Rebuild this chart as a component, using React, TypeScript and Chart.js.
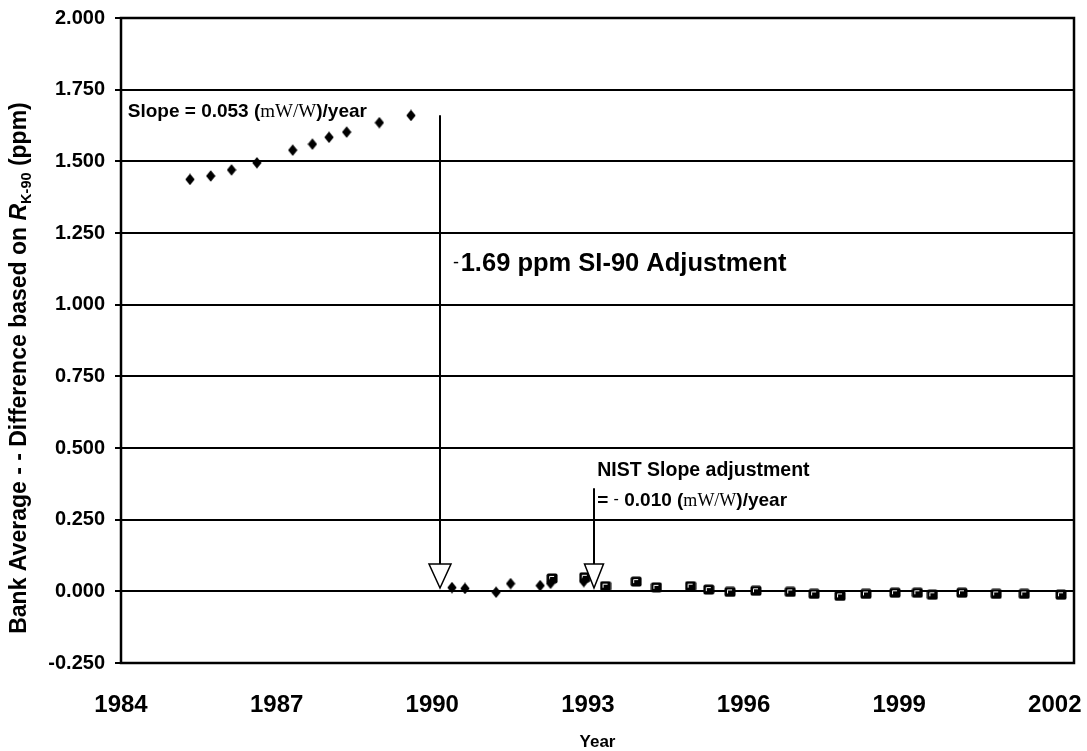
import { useEffect, useRef } from "react";
import { Chart, registerables } from "chart.js";

Chart.register(...registerables);

// ---- data ----
const DIAMOND_YEARS = [
  1985.33, 1985.73, 1986.13, 1986.62, 1987.31, 1987.69, 1988.01, 1988.35, 1988.98, 1989.59,
  1990.38, 1990.63, 1991.23, 1991.51, 1992.08, 1992.28, 1992.92,
];
const DIAMOND_VALUES = [
  1.437, 1.449, 1.47, 1.495, 1.539, 1.56, 1.584, 1.602, 1.635, 1.66,
  0.013, 0.01, -0.003, 0.027, 0.02, 0.028, 0.034,
];
const SQUARE_YEARS = [
  1992.31, 1992.94, 1993.34, 1993.93, 1994.32, 1994.98, 1995.33, 1995.74, 1996.24, 1996.9,
  1997.36, 1997.86, 1998.36, 1998.92, 1999.35, 1999.64, 2000.21, 2000.87, 2001.41, 2002.12,
];
const SQUARE_VALUES = [
  0.045, 0.049, 0.018, 0.034, 0.014, 0.018, 0.006, -0.002, 0.002, -0.002,
  -0.009, -0.016, -0.009, -0.005, -0.005, -0.012, -0.005, -0.009, -0.009, -0.012,
];
const X_TICKS = [1984, 1987, 1990, 1993, 1996, 1999, 2002];
const Y_TICKS = [-0.25, 0, 0.25, 0.5, 0.75, 1.0, 1.25, 1.5, 1.75, 2.0];
const X_MIN = 1984;
const X_MAX = 2002.37;
const Y_MIN = -0.25;
const Y_MAX = 2.0;

// annotation arrows (data coords)
const ARROW_X = [1990.14, 1993.12];
const ARROW_TOP = [1.661, 0.36];
const ARROW_TIP = [0.0115, 0.0115];

// annotation texts
const Y_TITLE_MAIN = "Bank Average - - Difference based on ";
const Y_TITLE_R = "R";
const Y_TITLE_SUB = "K-90";
const Y_TITLE_END = " (ppm)";
const X_TITLE = "Year";
const SLOPE_A = "Slope = 0.053 (";
const UNIT = "mW/W";
const SLOPE_B = ")/year";
const ADJ_MINUS = "-";
const ADJ_TEXT = "1.69 ppm SI-90 Adjustment";
const NIST_LINE1 = "NIST Slope adjustment";
const NIST_EQ = "= ";
const NIST_MINUS = "-";
const NIST_VAL = " 0.010 (";
const NIST_END = ")/year";

// text anchors (data coords: left x, baseline y)
const SLOPE_POS = [1984.13, 1.655];
const ADJ_POS = [1990.4, 1.117];
const NIST_POS1 = [1993.18, 0.404];
const NIST_POS2 = [1993.18, 0.298];

const SANS = "'Liberation Sans', Arial, sans-serif";
const SERIF = "'Liberation Serif', 'Times New Roman', serif";

function makeDiamond(): HTMLCanvasElement {
  const c = document.createElement("canvas");
  c.width = 10;
  c.height = 12;
  const g = c.getContext("2d")!;
  g.fillStyle = "#000";
  g.beginPath();
  g.moveTo(5, 0.3);
  g.lineTo(9.7, 6);
  g.lineTo(5, 11.7);
  g.lineTo(0.3, 6);
  g.closePath();
  g.fill();
  return c;
}

function makeSquare(): HTMLCanvasElement {
  const c = document.createElement("canvas");
  c.width = 12;
  c.height = 11;
  const g = c.getContext("2d")!;
  g.fillStyle = "#000";
  g.beginPath();
  (g as any).roundRect ? (g as any).roundRect(0.5, 0.5, 11, 10, 2) : g.rect(0.5, 0.5, 11, 10);
  g.fill();
  g.strokeStyle = "#fff";
  g.lineWidth = 1;
  g.beginPath();
  g.moveTo(3.5, 7);
  g.lineTo(3.5, 3.5);
  g.lineTo(8, 3.5);
  g.stroke();
  return c;
}

type Run = { text: string; font: string; dy?: number };

function runsWidth(ctx: CanvasRenderingContext2D, runs: Run[]) {
  let w = 0;
  for (const r of runs) {
    ctx.font = r.font;
    w += ctx.measureText(r.text).width;
  }
  return w;
}

function drawRuns(ctx: CanvasRenderingContext2D, x: number, y: number, runs: Run[]) {
  let cx = x;
  for (const r of runs) {
    ctx.font = r.font;
    ctx.fillText(r.text, cx, y + (r.dy || 0));
    cx += ctx.measureText(r.text).width;
  }
}

const overlayPlugin = {
  id: "overlay",
  beforeDatasetsDraw(chart: any) {
    const { ctx, chartArea: a } = chart;
    ctx.save();
    ctx.strokeStyle = "#000";
    ctx.lineWidth = 2.5;
    ctx.strokeRect(a.left, a.top, a.right - a.left, a.bottom - a.top);
    ctx.restore();
  },
  afterDatasetsDraw(chart: any) {
    const { ctx } = chart;
    const xs = chart.scales.x;
    const ys = chart.scales.y;
    ctx.save();
    // arrows
    const headW = [22, 19];
    const headH = 24;
    for (let i = 0; i < ARROW_X.length; i++) {
      const x = Math.round(xs.getPixelForValue(ARROW_X[i]));
      const yTop = ys.getPixelForValue(ARROW_TOP[i]);
      const yTip = ys.getPixelForValue(ARROW_TIP[i]);
      const yHead = yTip - headH;
      ctx.strokeStyle = "#000";
      ctx.lineWidth = 2;
      ctx.beginPath();
      ctx.moveTo(x, yTop);
      ctx.lineTo(x, yHead);
      ctx.stroke();
      ctx.beginPath();
      ctx.moveTo(x - headW[i] / 2, yHead);
      ctx.lineTo(x + headW[i] / 2, yHead);
      ctx.lineTo(x, yTip);
      ctx.closePath();
      ctx.fillStyle = "#fff";
      ctx.fill();
      ctx.lineWidth = 1.5;
      ctx.stroke();
    }
    // texts
    ctx.fillStyle = "#000";
    ctx.textBaseline = "alphabetic";
    ctx.textAlign = "left";
    const B19 = `bold 19px ${SANS}`;
    drawRuns(ctx, xs.getPixelForValue(SLOPE_POS[0]), ys.getPixelForValue(SLOPE_POS[1]), [
      { text: SLOPE_A, font: B19 },
      { text: UNIT, font: `19px ${SERIF}` },
      { text: SLOPE_B, font: B19 },
    ]);
    drawRuns(ctx, xs.getPixelForValue(ADJ_POS[0]), ys.getPixelForValue(ADJ_POS[1]), [
      { text: ADJ_MINUS, font: `18px ${SANS}`, dy: -3 },
      { text: " ", font: `6px ${SANS}` },
      { text: ADJ_TEXT, font: `bold 25.5px ${SANS}` },
    ]);
    drawRuns(ctx, xs.getPixelForValue(NIST_POS1[0]), ys.getPixelForValue(NIST_POS1[1]), [
      { text: NIST_LINE1, font: `bold 19.5px ${SANS}` },
    ]);
    drawRuns(ctx, xs.getPixelForValue(NIST_POS2[0]), ys.getPixelForValue(NIST_POS2[1]), [
      { text: NIST_EQ, font: B19 },
      { text: NIST_MINUS, font: `16px ${SANS}`, dy: -2 },
      { text: NIST_VAL, font: B19 },
      { text: UNIT, font: `18px ${SERIF}` },
      { text: NIST_END, font: B19 },
    ]);
    // x title
    ctx.font = `bold 17px ${SANS}`;
    ctx.textAlign = "center";
    ctx.fillText(X_TITLE, (chart.chartArea.left + chart.chartArea.right) / 2, 747);
    // y title (rotated)
    const yRuns: Run[] = [
      { text: Y_TITLE_MAIN, font: `bold 23px ${SANS}` },
      { text: Y_TITLE_R, font: `italic bold 23px ${SANS}` },
      { text: Y_TITLE_SUB, font: `bold 14.5px ${SANS}`, dy: 5 },
      { text: Y_TITLE_END, font: `bold 23px ${SANS}` },
    ];
    ctx.textAlign = "left";
    const w = runsWidth(ctx, yRuns);
    ctx.translate(26, 368);
    ctx.rotate(-Math.PI / 2);
    drawRuns(ctx, -w / 2, 0, yRuns);
    ctx.restore();
  },
};

export default function App() {
  const ref = useRef<HTMLCanvasElement | null>(null);
  useEffect(() => {
    if (!ref.current) return;
    const diamond = makeDiamond();
    const square = makeSquare();
    const chart = new Chart(ref.current, {
      type: "scatter",
      data: {
        datasets: [
          {
            label: "Bank average (K-90)",
            data: DIAMOND_YEARS.map((x, i) => ({ x, y: DIAMOND_VALUES[i] })),
            pointStyle: diamond as any,
            pointRadius: 5,
            showLine: false,
          },
          {
            label: "Bank average (NIST)",
            data: SQUARE_YEARS.map((x, i) => ({ x, y: SQUARE_VALUES[i] })),
            pointStyle: square as any,
            pointRadius: 5,
            showLine: false,
          },
        ],
      },
      options: {
        animation: false,
        responsive: true,
        maintainAspectRatio: false,
        layout: { padding: { top: 18, right: 13, left: 0, bottom: 0 } },
        plugins: { legend: { display: false }, tooltip: { enabled: false } },
        scales: {
          x: {
            type: "linear",
            min: X_MIN,
            max: X_MAX,
            afterBuildTicks: (s: any) => {
              s.ticks = X_TICKS.map((v) => ({ value: v }));
            },
            afterFit: (s: any) => {
              s.height = 88;
              s.paddingLeft = 0;
              s.paddingRight = 0;
            },
            grid: { display: false, drawTicks: false },
            border: { display: false },
            ticks: {
              color: "#000",
              font: { family: SANS, size: 24, weight: "bold" },
              padding: 28,
              maxRotation: 0,
              autoSkip: false,
              callback: (v: any) => String(v),
            },
          },
          y: {
            type: "linear",
            min: Y_MIN,
            max: Y_MAX,
            afterBuildTicks: (s: any) => {
              s.ticks = Y_TICKS.map((v) => ({ value: v }));
            },
            afterFit: (s: any) => {
              s.width = 121;
              s.paddingTop = 0;
              s.paddingBottom = 0;
            },
            grid: { color: "#000", lineWidth: 2, tickLength: 6, drawTicks: true },
            border: { display: false },
            ticks: {
              color: "#000",
              font: { family: SANS, size: 20, weight: "bold" },
              padding: 10,
              autoSkip: false,
              callback: (v: any) => Number(v).toFixed(3),
            },
          },
        },
      },
      plugins: [overlayPlugin],
    });
    return () => chart.destroy();
  }, []);
  return (
    <div style={{ position: "fixed", left: 0, top: 0, width: 1087, height: 751, background: "#fff" }}>
      <canvas ref={ref} />
    </div>
  );
}
